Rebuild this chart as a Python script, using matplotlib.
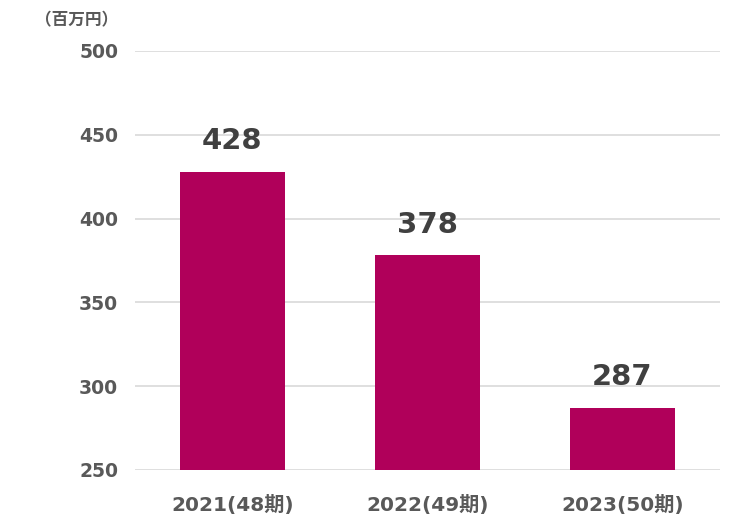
import matplotlib
matplotlib.use("Agg")
import matplotlib.pyplot as plt

plt.rcParams['font.family'] = ['DejaVu Sans', 'Noto Sans CJK JP']

# データ
categories = ["2021(48期)", "2022(49期)", "2023(50期)"]
values = [428, 378, 287]
yticks = [250, 300, 350, 400, 450, 500]

fig = plt.figure(figsize=(7.45, 5.25), dpi=100)
ax = fig.add_axes([0.181, 0.105, 0.785, 0.798])

x = range(len(categories))
ax.bar(x, values, width=0.54, color="#B0005A", zorder=3)

for i, v in enumerate(values):
    ax.text(i, v + 10, str(v), ha="center", va="bottom",
            fontsize=21, fontweight="bold", color="#404040")

ax.set_ylim(250, 500)
ax.set_xlim(-0.5, 2.5)
ax.set_yticks(yticks)
ax.set_xticks(list(x))
ax.set_xticklabels(categories)
ax.grid(axis="y", color="#D9D9D9", linewidth=1.2, zorder=0)
for s in ax.spines.values():
    s.set_visible(False)
ax.tick_params(length=0)
ax.tick_params(axis="y", pad=12, labelsize=13.5, labelcolor="#595959")
ax.tick_params(axis="x", pad=18, labelsize=14.5, labelcolor="#595959")
for lab in ax.get_xticklabels() + ax.get_yticklabels():
    lab.set_fontweight("bold")

fig.text(0.158, 0.962, "（百万円）", ha="right", va="center",
         fontsize=12, fontweight="bold", color="#595959")

fig.savefig("out.png", dpi=100)
